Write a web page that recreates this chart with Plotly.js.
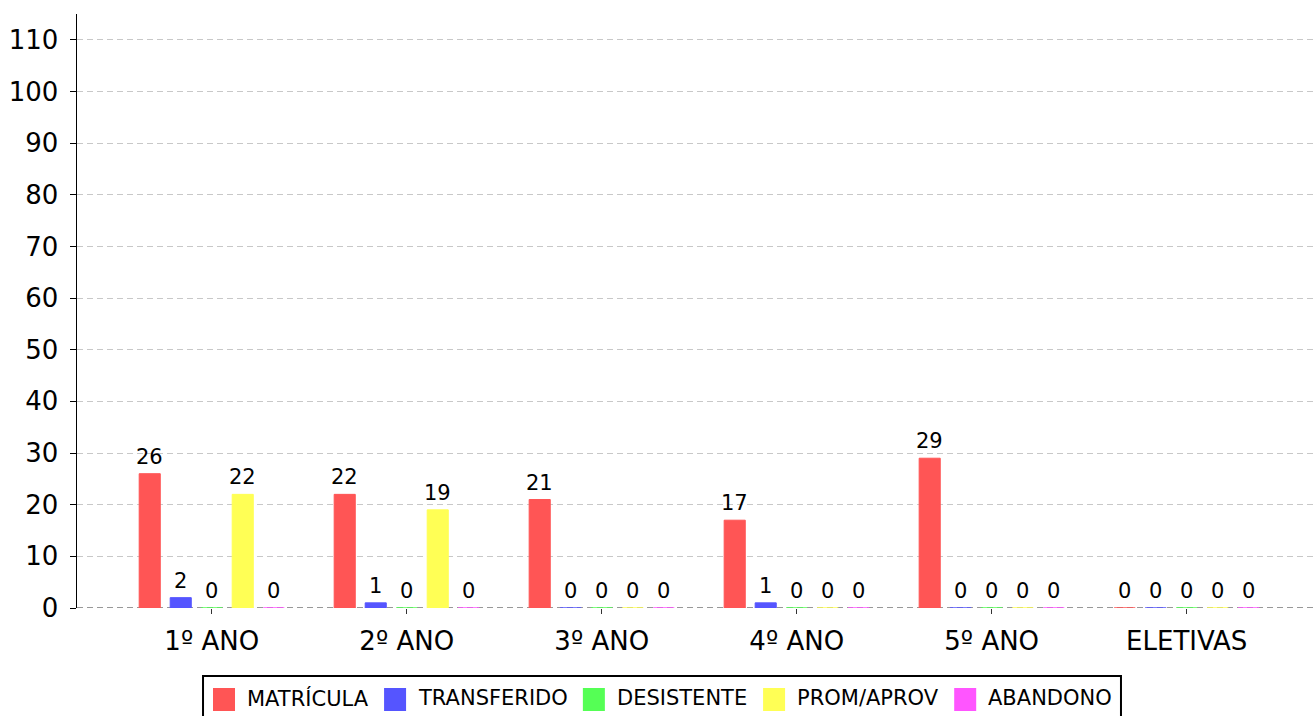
<!DOCTYPE html>
<html>
<head>
<meta charset="utf-8">
<script src="https://cdn.plot.ly/plotly-3.0.1.min.js"></script>
<style>html,body{margin:0;padding:0;background:#fff;}#chart{width:1315px;height:716px;}</style>
</head>
<body>
<div id="chart"></div>
<script>
const categories = ['1º ANO', '2º ANO', '3º ANO', '4º ANO', '5º ANO', 'ELETIVAS'];
const seriesNames = ['MATRÍCULA', 'TRANSFERIDO', 'DESISTENTE', 'PROM/APROV', 'ABANDONO'];
const matricula = [26, 22, 21, 17, 29, 0];
const transferido = [2, 1, 0, 1, 0, 0];
const desistente = [0, 0, 0, 0, 0, 0];
const promAprov = [22, 19, 0, 0, 0, 0];
const abandono = [0, 0, 0, 0, 0, 0];
const colors = ['#ff5555', '#5555ff', '#55ff55', '#ffff55', '#ff55ff'];
const yTicks = [0, 10, 20, 30, 40, 50, 60, 70, 80, 90, 100, 110];

const FONT = 'DejaVu Sans, sans-serif';
const allSeries = [matricula, transferido, desistente, promAprov, abandono];
const xIdx = categories.map((c, i) => i);

const W = 1315, H = 716;
const M = {l: 77, r: 0, t: 14, b: 108};
const plotW = W - M.l - M.r, plotH = H - M.t - M.b;
const BARGAP = 0.205;
const slot = (1 - BARGAP) / allSeries.length;

const traces = allSeries.map((vals, i) => ({
  type: 'bar',
  x: xIdx,
  y: vals,
  name: seriesNames[i],
  showlegend: false,
  marker: {color: colors[i], line: {color: colors[i], width: 1}},
  hoverinfo: 'none'
}));

// value labels above each bar
const annotations = [];
allSeries.forEach((vals, s) => {
  vals.forEach((v, i) => {
    annotations.push({
      x: i + (s - (allSeries.length - 1) / 2) * slot,
      y: v,
      xref: 'x', yref: 'y',
      text: String(v),
      showarrow: false,
      xanchor: 'center', yanchor: 'bottom',
      yshift: 3,
      font: {family: FONT, size: 21, color: '#000'}
    });
  });
});

// manual legend (box, swatches, labels)
const LEG_FONT = 21;
const ctx = document.createElement('canvas').getContext('2d');
ctx.font = LEG_FONT + 'px "DejaVu Sans"';
const textW = seriesNames.map(n => ctx.measureText(n).width);
const SW = 22, SH = 23, GAP_ST = 11, GAP_ITEM = 17, PAD = 10;
const totalW = PAD * 2 + textW.reduce((a, b) => a + b, 0) + seriesNames.length * (SW + GAP_ST) + (seriesNames.length - 1) * GAP_ITEM;
const legCenter = 662;
const legLeft = legCenter - totalW / 2;
const legTop = 676;
const px2x = p => (p - M.l) / plotW;
const py2y = p => (M.t + plotH - p) / plotH;

const shapes = [{
  type: 'line', xref: 'paper', yref: 'y', x0: 0, x1: 1, y0: 0, y1: 0,
  line: {color: '#777', width: 1.5, dash: '6px,4px'}, layer: 'below'
}, {
  type: 'rect', xref: 'paper', yref: 'paper',
  x0: px2x(legLeft), x1: px2x(legLeft + totalW),
  y0: py2y(legTop), y1: py2y(legTop + 60),
  line: {color: '#000', width: 2}, fillcolor: '#fff', layer: 'above'
}];
let cx = legLeft + PAD;
const swTop = 688;
seriesNames.forEach((n, i) => {
  shapes.push({
    type: 'rect', xref: 'paper', yref: 'paper',
    x0: px2x(cx), x1: px2x(cx + SW), y0: py2y(swTop), y1: py2y(swTop + SH),
    line: {width: 0}, fillcolor: colors[i], layer: 'above'
  });
  annotations.push({
    x: px2x(cx + SW + GAP_ST), y: py2y(swTop + SH / 2 - 1.5),
    xref: 'paper', yref: 'paper',
    text: n, showarrow: false,
    xanchor: 'left', yanchor: 'middle', borderpad: 0,
    font: {family: FONT, size: LEG_FONT, color: '#000'}
  });
  cx += SW + GAP_ST + textW[i] + GAP_ITEM;
});

const layout = {
  width: W,
  height: H,
  margin: {l: M.l, r: M.r, t: M.t, b: M.b, pad: 0},
  paper_bgcolor: '#fff',
  plot_bgcolor: '#fff',
  font: {family: FONT, color: '#000'},
  barmode: 'group',
  bargap: BARGAP,
  bargroupgap: 0.32,
  showlegend: false,
  xaxis: {
    type: 'linear',
    range: [-0.691, 5.658],
    tickvals: xIdx,
    ticktext: categories,
    showgrid: false,
    zeroline: false,
    showline: false,
    ticks: 'outside',
    ticklen: 5,
    tickcolor: '#333',
    ticklabelstandoff: 5,
    tickfont: {family: FONT, size: 26, color: '#000'},
    fixedrange: true
  },
  yaxis: {
    range: [0, 115],
    tickvals: yTicks,
    ticktext: yTicks.map(String),
    showgrid: true,
    gridcolor: '#c8c8c8',
    griddash: '6px,4px',
    gridwidth: 1,
    zeroline: false,
    showline: true,
    linecolor: '#000',
    linewidth: 1.5,
    ticks: 'outside',
    ticklen: 6,
    tickcolor: '#000',
    ticklabelstandoff: 6,
    tickfont: {family: FONT, size: 26, color: '#000'},
    fixedrange: true
  },
  shapes: shapes,
  annotations: annotations
};

Plotly.newPlot('chart', traces, layout, {displayModeBar: false, staticPlot: true});
</script>
</body>
</html>
